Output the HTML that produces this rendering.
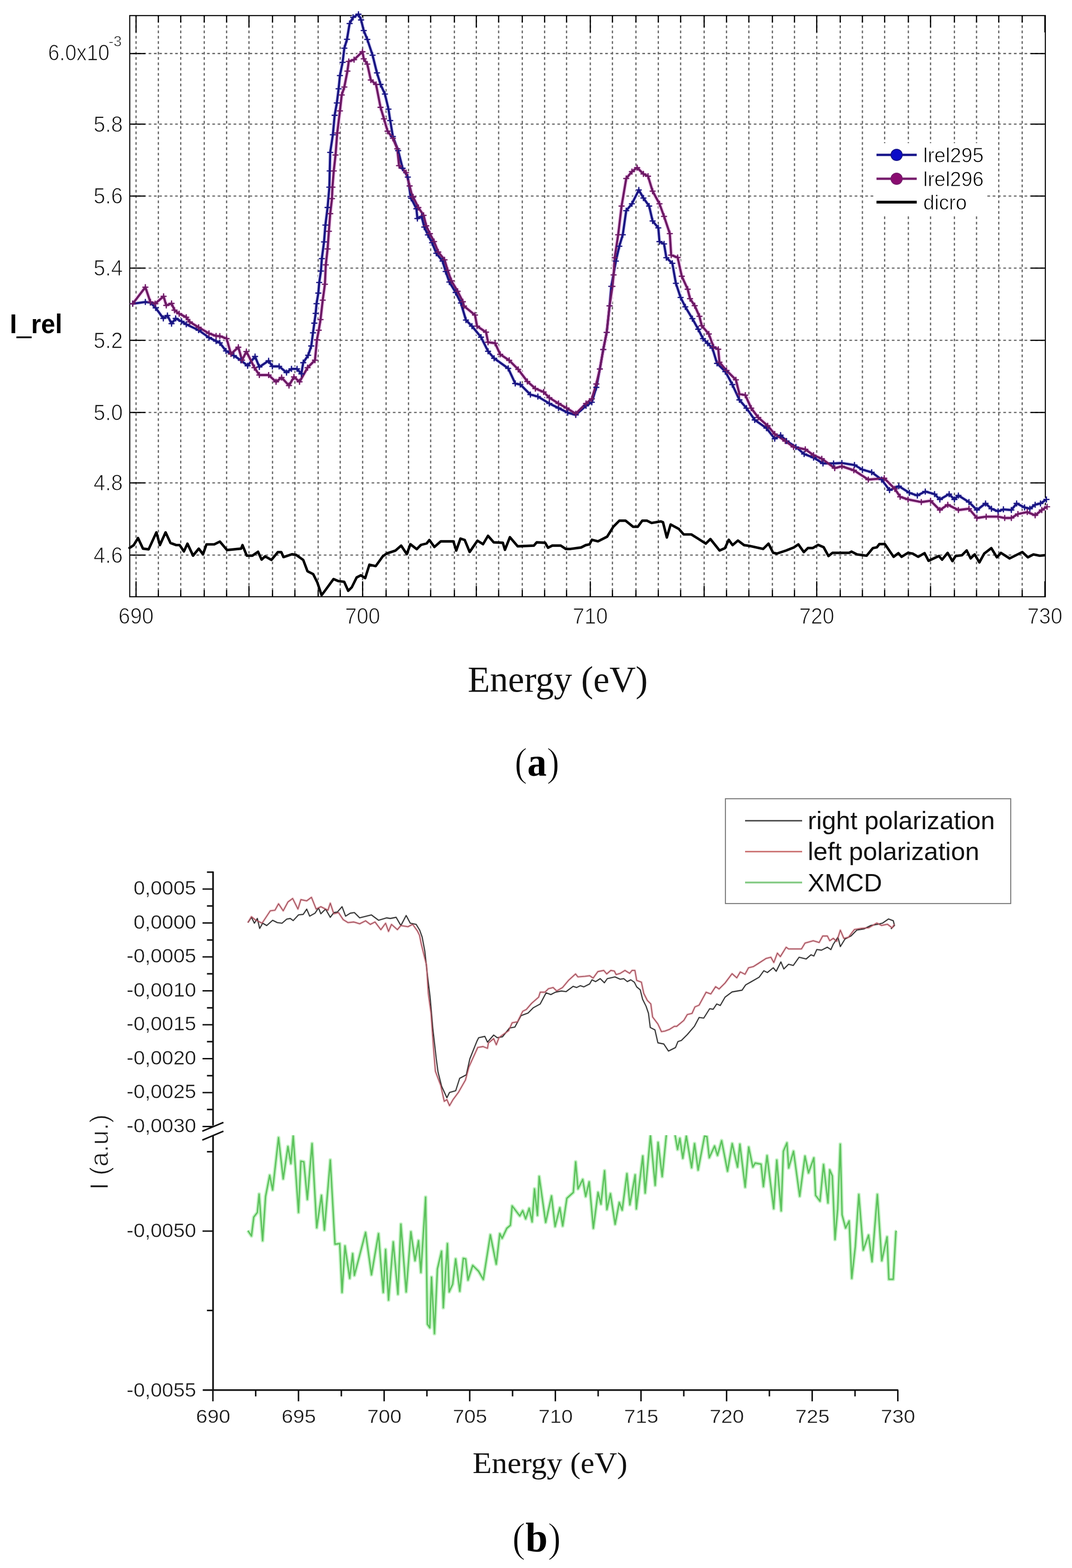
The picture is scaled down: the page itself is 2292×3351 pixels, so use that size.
<!DOCTYPE html>
<html><head><meta charset="utf-8"><title>Figure</title>
<style>html,body{margin:0;padding:0;background:#fff;}body{width:2292px;height:3351px;overflow:hidden;}svg{display:block;}</style>
</head><body>
<svg width="2292" height="3351" viewBox="0 0 2292 3351">
<rect x="0" y="0" width="2292" height="3351" fill="#ffffff"/>
<path d="M290.9 33.3V1275.3M338.6 33.3V1275.3M386.4 33.3V1275.3M436.7 33.3V1275.3M484.5 33.3V1275.3M532.3 33.3V1275.3M582.7 33.3V1275.3M630.5 33.3V1275.3M680.2 33.3V1275.3M727.4 33.3V1275.3M775.3 33.3V1275.3M825.5 33.3V1275.3M873.4 33.3V1275.3M920.8 33.3V1275.3M971.5 33.3V1275.3M1018.4 33.3V1275.3M1066.1 33.3V1275.3M1116.7 33.3V1275.3M1164.4 33.3V1275.3M1211.3 33.3V1275.3M1262.1 33.3V1275.3M1309.4 33.3V1275.3M1359.7 33.3V1275.3M1407.5 33.3V1275.3M1455.2 33.3V1275.3M1505.5 33.3V1275.3M1553.3 33.3V1275.3M1601.1 33.3V1275.3M1651.4 33.3V1275.3M1698.7 33.3V1275.3M1746.2 33.3V1275.3M1796.5 33.3V1275.3M1843.9 33.3V1275.3M1891.4 33.3V1275.3M1942.1 33.3V1275.3M1989.6 33.3V1275.3M2040.6 33.3V1275.3M2087.9 33.3V1275.3M2135.4 33.3V1275.3M2185.5 33.3V1275.3" stroke="#686868" stroke-width="2.7" stroke-dasharray="5.7 5.65" stroke-dashoffset="2.0" fill="none"/>
<path d="M277.4 114.4H2235.0M277.4 265.3H2235.0M277.4 419.0H2235.0M277.4 573.0H2235.0M277.4 727.2H2235.0M277.4 881.5H2235.0M277.4 1032.0H2235.0M277.4 1186.3H2235.0" stroke="#686868" stroke-width="2.6" stroke-dasharray="5.7 5.65" stroke-dashoffset="5.0" fill="none"/>
<path d="M290.9 1275.3v-33M290.9 33.3v36M338.6 1275.3v-14M338.6 33.3v15M386.4 1275.3v-14M386.4 33.3v15M436.7 1275.3v-14M436.7 33.3v15M484.5 1275.3v-14M484.5 33.3v15M532.3 1275.3v-23M532.3 33.3v25M582.7 1275.3v-14M582.7 33.3v15M630.5 1275.3v-14M630.5 33.3v15M680.2 1275.3v-14M680.2 33.3v15M727.4 1275.3v-14M727.4 33.3v15M775.3 1275.3v-33M775.3 33.3v36M825.5 1275.3v-14M825.5 33.3v15M873.4 1275.3v-14M873.4 33.3v15M920.8 1275.3v-14M920.8 33.3v15M971.5 1275.3v-14M971.5 33.3v15M1018.4 1275.3v-23M1018.4 33.3v25M1066.1 1275.3v-14M1066.1 33.3v15M1116.7 1275.3v-14M1116.7 33.3v15M1164.4 1275.3v-14M1164.4 33.3v15M1211.3 1275.3v-14M1211.3 33.3v15M1262.1 1275.3v-33M1262.1 33.3v36M1309.4 1275.3v-14M1309.4 33.3v15M1359.7 1275.3v-14M1359.7 33.3v15M1407.5 1275.3v-14M1407.5 33.3v15M1455.2 1275.3v-14M1455.2 33.3v15M1505.5 1275.3v-23M1505.5 33.3v25M1553.3 1275.3v-14M1553.3 33.3v15M1601.1 1275.3v-14M1601.1 33.3v15M1651.4 1275.3v-14M1651.4 33.3v15M1698.7 1275.3v-14M1698.7 33.3v15M1746.2 1275.3v-33M1746.2 33.3v36M1796.5 1275.3v-14M1796.5 33.3v15M1843.9 1275.3v-14M1843.9 33.3v15M1891.4 1275.3v-14M1891.4 33.3v15M1942.1 1275.3v-14M1942.1 33.3v15M1989.6 1275.3v-23M1989.6 33.3v25M2040.6 1275.3v-14M2040.6 33.3v15M2087.9 1275.3v-14M2087.9 33.3v15M2135.4 1275.3v-14M2135.4 33.3v15M2185.5 1275.3v-14M2185.5 33.3v15M2234.0 1275.3v-33M2234.0 33.3v36M277.4 114.4h33M2235.0 114.4h-31M277.4 265.3h33M2235.0 265.3h-31M277.4 419.0h33M2235.0 419.0h-31M277.4 573.0h33M2235.0 573.0h-31M277.4 727.2h33M2235.0 727.2h-31M277.4 881.5h33M2235.0 881.5h-31M277.4 1032.0h33M2235.0 1032.0h-31M277.4 1186.3h33M2235.0 1186.3h-31" stroke="#000" stroke-width="2.5" fill="none"/>
<rect x="1871" y="306" width="237" height="151" fill="#ffffff"/>
<rect x="277.4" y="33.3" width="1957.6" height="1242.0" fill="none" stroke="#000" stroke-width="2.3"/>
<polyline points="283.8,649.1 310.8,645.3 321.5,646.5 332.8,657.9 349.2,680.5 358.0,674.2 366.8,691.8 375.6,680.5 388.2,686.8 398.2,693.1 424.7,705.6 446.8,721.4 462.0,729.0 470.0,732.8 483.2,750.0 500.0,760.0 515.0,770.0 529.4,781.7 545.3,761.9 554.5,784.3 574.3,771.1 582.3,783.0 596.8,783.0 612.6,796.2 623.2,788.3 635.1,788.3 644.3,798.9 648.3,775.1 658.9,759.2 665.5,739.4 669.2,711.3 672.0,690.6 674.9,669.8 676.8,649.0 680.6,626.4 682.5,603.8 686.2,579.2 688.1,552.8 692.8,517.0 695.7,481.0 700.4,443.4 704.2,400.0 705.0,365.3 706.0,325.7 711.7,288.0 715.5,246.4 720.2,220.0 724.0,189.8 726.8,161.5 732.5,133.2 736.2,103.0 741.9,84.0 747.5,50.2 755.0,37.0 766.4,30.4 772.0,42.6 777.7,65.3 785.3,84.2 796.6,118.0 806.0,155.8 813.6,180.4 823.0,201.0 830.6,233.2 834.3,257.7 840.0,291.7 851.3,321.9 860.8,359.6 872.0,378.5 877.7,420.0 879.1,423.7 890.3,446.1 892.4,467.0 901.5,462.8 907.1,485.2 914.9,502.0 923.8,518.8 932.8,541.2 946.2,557.9 952.9,580.3 960.8,602.7 974.2,625.1 985.4,647.5 996.2,684.0 1009.1,697.0 1028.5,720.6 1043.5,750.8 1056.5,765.8 1086.6,787.3 1101.6,819.6 1112.4,821.8 1134.0,843.3 1150.0,847.5 1174.5,862.3 1194.1,872.0 1213.8,881.9 1231.0,886.8 1253.0,867.2 1265.3,859.8 1275.0,827.9 1282.5,788.7 1289.8,747.0 1297.2,710.2 1303.3,653.8 1307.0,612.0 1316.8,558.0 1324.1,526.2 1331.5,501.7 1338.9,450.2 1351.1,435.5 1365.8,406.0 1375.7,423.2 1387.9,440.4 1395.3,472.3 1407.5,487.0 1410.0,516.4 1419.8,521.3 1424.7,550.7 1437.5,562.8 1445.1,605.5 1455.2,635.7 1465.2,655.8 1480.3,681.0 1492.9,703.6 1503.0,723.8 1513.0,733.8 1523.1,743.9 1533.1,776.6 1550.8,794.2 1565.8,821.9 1580.9,854.6 1596.0,872.2 1613.6,897.4 1638.8,915.0 1656.4,937.6 1669.0,930.0 1681.6,942.6 1701.7,955.2 1719.3,970.3 1739.4,977.9 1759.6,990.4 1782.2,990.4 1800.0,989.5 1826.9,993.8 1843.9,1003.7 1863.7,1009.3 1884.9,1024.9 1901.9,1047.6 1921.7,1039.0 1944.4,1053.2 1961.3,1058.9 1978.3,1050.4 1998.1,1056.0 2009.5,1067.4 2029.3,1056.0 2040.6,1067.4 2049.1,1058.9 2071.7,1073.0 2088.7,1090.0 2107.1,1075.9 2119.8,1087.2 2134.0,1092.8 2145.3,1088.6 2162.3,1090.0 2173.6,1075.9 2190.6,1084.4 2201.9,1087.2 2213.2,1078.7 2224.6,1075.9 2237.3,1067.4" fill="none" stroke="#e8e8fb" stroke-width="9.5" stroke-linejoin="round"/>
<polyline points="283.8,649.1 310.8,613.8 321.5,645.3 331.6,649.1 349.8,633.3 355.5,652.8 366.8,648.4 373.1,662.9 383.1,670.4 398.2,678.0 405.8,688.0 424.7,699.6 446.8,712.5 462.0,718.0 470.0,718.3 484.5,723.6 493.8,756.6 509.6,742.1 517.5,769.8 526.8,751.3 544.0,785.7 554.5,801.5 574.3,801.5 590.2,816.0 602.1,806.8 617.9,824.0 628.5,805.5 640.4,816.0 657.6,785.7 673.4,769.8 677.7,726.4 681.5,705.7 685.3,683.0 690.0,641.5 694.7,607.5 696.6,566.0 700.4,532.0 703.2,494.3 706.0,456.6 709.8,424.5 710.8,400.0 713.6,365.3 717.4,331.3 721.0,284.2 726.8,237.0 730.6,203.0 736.2,186.0 742.8,152.0 745.7,131.3 757.0,127.5 775.0,110.6 777.7,125.7 785.3,137.0 792.8,171.0 804.0,180.4 813.6,229.4 821.0,254.0 828.7,280.4 840.0,295.5 849.4,318.0 853.2,354.0 868.3,369.0 875.8,397.4 881.5,420.0 883.3,421.1 894.5,443.5 905.7,460.2 911.3,482.6 919.1,499.4 928.0,516.2 937.0,538.6 950.4,555.3 957.1,577.7 965.0,600.1 978.4,622.5 989.6,644.9 991.9,654.0 1015.6,673.3 1019.9,697.0 1039.2,709.9 1043.5,731.4 1058.6,733.5 1069.4,757.2 1088.7,770.1 1108.0,789.5 1127.5,815.3 1144.7,830.4 1162.3,837.7 1174.5,850.0 1194.1,862.3 1211.3,872.0 1231.0,884.3 1253.0,862.3 1265.3,852.4 1275.0,820.6 1282.5,788.7 1289.8,747.0 1297.2,710.2 1303.3,653.8 1309.4,612.0 1311.9,587.5 1314.3,550.7 1321.7,501.7 1329.0,440.4 1338.9,381.5 1351.1,366.8 1362.2,358.2 1375.7,371.7 1385.5,376.6 1395.3,408.5 1410.0,435.5 1419.8,462.5 1432.1,499.2 1435.0,545.2 1448.9,550.2 1457.7,590.4 1470.3,618.1 1475.3,638.2 1485.3,653.3 1495.4,676.0 1500.4,696.1 1515.5,713.7 1525.6,741.4 1535.7,746.4 1538.2,774.1 1553.3,791.7 1573.4,811.8 1580.9,842.0 1593.5,844.5 1606.1,872.2 1621.2,892.3 1641.3,909.9 1656.4,927.5 1679.0,942.6 1696.7,955.2 1721.8,960.3 1739.4,972.8 1757.0,980.4 1784.7,1000.5 1800.0,996.6 1825.5,1005.1 1856.6,1024.9 1890.6,1022.1 1913.2,1044.7 1924.5,1061.7 1941.5,1067.4 1969.8,1073.0 1989.6,1070.2 2009.5,1090.0 2026.4,1078.7 2049.1,1090.0 2071.7,1087.2 2088.7,1107.0 2108.5,1104.2 2134.0,1104.2 2148.1,1107.0 2162.3,1107.0 2176.4,1098.5 2196.3,1094.3 2213.2,1101.3 2227.4,1090.0 2238.7,1083.0" fill="none" stroke="#f8dcf6" stroke-width="9.5" stroke-linejoin="round"/>
<polyline points="277.0,1171.0 286.0,1164.9 295.1,1149.8 305.7,1172.5 317.8,1174.0 334.4,1137.7 341.9,1164.9 354.0,1137.7 364.5,1160.4 376.6,1164.9 384.2,1164.9 393.2,1178.5 400.8,1161.9 412.8,1187.5 424.9,1172.5 434.0,1184.5 441.5,1163.4 458.1,1163.4 470.2,1157.4 485.3,1175.5 515.5,1172.5 518.5,1164.9 527.6,1187.5 539.6,1187.5 551.7,1179.1 559.3,1196.0 566.8,1189.0 580.4,1196.6 594.0,1180.0 601.5,1180.0 606.1,1190.6 624.2,1184.5 633.2,1186.0 648.3,1196.6 657.4,1220.8 669.5,1226.8 678.5,1244.9 687.6,1272.0 696.6,1260.0 713.2,1237.4 723.8,1241.9 735.9,1243.4 744.5,1262.6 752.1,1255.1 762.6,1234.0 771.7,1229.4 780.8,1235.5 789.8,1206.8 803.4,1209.8 818.5,1188.7 827.5,1182.6 845.7,1176.6 857.7,1166.0 869.8,1184.2 877.4,1163.0 891.0,1173.6 900.0,1164.5 912.1,1161.5 918.1,1154.0 928.7,1169.0 942.3,1157.0 969.4,1157.0 975.5,1176.6 984.5,1151.0 993.6,1154.0 1004.2,1179.6 1020.8,1155.5 1032.8,1163.0 1043.4,1145.0 1055.5,1159.0 1075.1,1160.0 1079.6,1175.0 1090.2,1148.0 1106.8,1167.5 1141.5,1166.0 1147.5,1159.0 1165.7,1160.0 1171.7,1170.6 1180.8,1166.0 1198.9,1166.0 1209.8,1173.2 1219.6,1173.2 1242.5,1170.0 1252.3,1165.0 1260.5,1163.4 1265.4,1153.6 1278.5,1156.9 1298.1,1147.0 1311.2,1125.8 1324.3,1112.7 1337.4,1112.7 1353.7,1125.8 1363.5,1125.8 1373.3,1112.7 1383.1,1112.7 1393.0,1117.6 1412.6,1114.3 1417.5,1116.0 1425.7,1148.7 1433.8,1120.9 1451.8,1130.7 1461.6,1142.1 1478.0,1142.1 1491.1,1150.3 1509.0,1161.8 1518.9,1152.0 1538.5,1176.5 1549.9,1171.6 1558.1,1153.6 1566.3,1165.0 1577.7,1155.2 1590.8,1165.0 1602.3,1166.7 1631.7,1173.2 1643.1,1161.8 1653.0,1181.4 1661.1,1183.0 1680.8,1176.5 1697.1,1170.0 1706.9,1163.4 1718.7,1179.8 1727.2,1171.3 1737.4,1171.3 1749.3,1164.5 1761.1,1169.6 1771.3,1188.3 1779.8,1181.5 1815.5,1181.5 1820.6,1178.8 1832.5,1184.9 1852.9,1187.6 1866.4,1171.3 1874.9,1169.6 1880.0,1162.8 1891.9,1162.8 1910.6,1190.0 1920.8,1182.2 1927.6,1190.0 1941.2,1181.5 1951.4,1183.2 1963.2,1190.0 1976.8,1182.2 1985.3,1198.5 2007.4,1188.3 2014.2,1196.1 2026.1,1181.5 2036.3,1199.2 2043.1,1188.3 2056.7,1186.6 2066.8,1176.4 2075.3,1193.4 2083.8,1184.9 2094.0,1201.9 2104.2,1183.2 2119.5,1171.3 2131.4,1191.0 2139.9,1181.5 2158.6,1193.4 2185.7,1179.8 2197.6,1191.0 2209.5,1184.9 2223.1,1187.6 2233.3,1186.6" fill="none" stroke="#000" stroke-width="5.4" stroke-linejoin="round" stroke-linecap="round"/>
<polyline points="283.8,649.1 310.8,645.3 321.5,646.5 332.8,657.9 349.2,680.5 358.0,674.2 366.8,691.8 375.6,680.5 388.2,686.8 398.2,693.1 424.7,705.6 446.8,721.4 462.0,729.0 470.0,732.8 483.2,750.0 500.0,760.0 515.0,770.0 529.4,781.7 545.3,761.9 554.5,784.3 574.3,771.1 582.3,783.0 596.8,783.0 612.6,796.2 623.2,788.3 635.1,788.3 644.3,798.9 648.3,775.1 658.9,759.2 665.5,739.4 669.2,711.3 672.0,690.6 674.9,669.8 676.8,649.0 680.6,626.4 682.5,603.8 686.2,579.2 688.1,552.8 692.8,517.0 695.7,481.0 700.4,443.4 704.2,400.0 705.0,365.3 706.0,325.7 711.7,288.0 715.5,246.4 720.2,220.0 724.0,189.8 726.8,161.5 732.5,133.2 736.2,103.0 741.9,84.0 747.5,50.2 755.0,37.0 766.4,30.4 772.0,42.6 777.7,65.3 785.3,84.2 796.6,118.0 806.0,155.8 813.6,180.4 823.0,201.0 830.6,233.2 834.3,257.7 840.0,291.7 851.3,321.9 860.8,359.6 872.0,378.5 877.7,420.0 879.1,423.7 890.3,446.1 892.4,467.0 901.5,462.8 907.1,485.2 914.9,502.0 923.8,518.8 932.8,541.2 946.2,557.9 952.9,580.3 960.8,602.7 974.2,625.1 985.4,647.5 996.2,684.0 1009.1,697.0 1028.5,720.6 1043.5,750.8 1056.5,765.8 1086.6,787.3 1101.6,819.6 1112.4,821.8 1134.0,843.3 1150.0,847.5 1174.5,862.3 1194.1,872.0 1213.8,881.9 1231.0,886.8 1253.0,867.2 1265.3,859.8 1275.0,827.9 1282.5,788.7 1289.8,747.0 1297.2,710.2 1303.3,653.8 1307.0,612.0 1316.8,558.0 1324.1,526.2 1331.5,501.7 1338.9,450.2 1351.1,435.5 1365.8,406.0 1375.7,423.2 1387.9,440.4 1395.3,472.3 1407.5,487.0 1410.0,516.4 1419.8,521.3 1424.7,550.7 1437.5,562.8 1445.1,605.5 1455.2,635.7 1465.2,655.8 1480.3,681.0 1492.9,703.6 1503.0,723.8 1513.0,733.8 1523.1,743.9 1533.1,776.6 1550.8,794.2 1565.8,821.9 1580.9,854.6 1596.0,872.2 1613.6,897.4 1638.8,915.0 1656.4,937.6 1669.0,930.0 1681.6,942.6 1701.7,955.2 1719.3,970.3 1739.4,977.9 1759.6,990.4 1782.2,990.4 1800.0,989.5 1826.9,993.8 1843.9,1003.7 1863.7,1009.3 1884.9,1024.9 1901.9,1047.6 1921.7,1039.0 1944.4,1053.2 1961.3,1058.9 1978.3,1050.4 1998.1,1056.0 2009.5,1067.4 2029.3,1056.0 2040.6,1067.4 2049.1,1058.9 2071.7,1073.0 2088.7,1090.0 2107.1,1075.9 2119.8,1087.2 2134.0,1092.8 2145.3,1088.6 2162.3,1090.0 2173.6,1075.9 2190.6,1084.4 2201.9,1087.2 2213.2,1078.7 2224.6,1075.9 2237.3,1067.4" fill="none" stroke="#1a1684" stroke-width="4.8" stroke-linejoin="round"/>
<polyline points="283.8,649.1 310.8,613.8 321.5,645.3 331.6,649.1 349.8,633.3 355.5,652.8 366.8,648.4 373.1,662.9 383.1,670.4 398.2,678.0 405.8,688.0 424.7,699.6 446.8,712.5 462.0,718.0 470.0,718.3 484.5,723.6 493.8,756.6 509.6,742.1 517.5,769.8 526.8,751.3 544.0,785.7 554.5,801.5 574.3,801.5 590.2,816.0 602.1,806.8 617.9,824.0 628.5,805.5 640.4,816.0 657.6,785.7 673.4,769.8 677.7,726.4 681.5,705.7 685.3,683.0 690.0,641.5 694.7,607.5 696.6,566.0 700.4,532.0 703.2,494.3 706.0,456.6 709.8,424.5 710.8,400.0 713.6,365.3 717.4,331.3 721.0,284.2 726.8,237.0 730.6,203.0 736.2,186.0 742.8,152.0 745.7,131.3 757.0,127.5 775.0,110.6 777.7,125.7 785.3,137.0 792.8,171.0 804.0,180.4 813.6,229.4 821.0,254.0 828.7,280.4 840.0,295.5 849.4,318.0 853.2,354.0 868.3,369.0 875.8,397.4 881.5,420.0 883.3,421.1 894.5,443.5 905.7,460.2 911.3,482.6 919.1,499.4 928.0,516.2 937.0,538.6 950.4,555.3 957.1,577.7 965.0,600.1 978.4,622.5 989.6,644.9 991.9,654.0 1015.6,673.3 1019.9,697.0 1039.2,709.9 1043.5,731.4 1058.6,733.5 1069.4,757.2 1088.7,770.1 1108.0,789.5 1127.5,815.3 1144.7,830.4 1162.3,837.7 1174.5,850.0 1194.1,862.3 1211.3,872.0 1231.0,884.3 1253.0,862.3 1265.3,852.4 1275.0,820.6 1282.5,788.7 1289.8,747.0 1297.2,710.2 1303.3,653.8 1309.4,612.0 1311.9,587.5 1314.3,550.7 1321.7,501.7 1329.0,440.4 1338.9,381.5 1351.1,366.8 1362.2,358.2 1375.7,371.7 1385.5,376.6 1395.3,408.5 1410.0,435.5 1419.8,462.5 1432.1,499.2 1435.0,545.2 1448.9,550.2 1457.7,590.4 1470.3,618.1 1475.3,638.2 1485.3,653.3 1495.4,676.0 1500.4,696.1 1515.5,713.7 1525.6,741.4 1535.7,746.4 1538.2,774.1 1553.3,791.7 1573.4,811.8 1580.9,842.0 1593.5,844.5 1606.1,872.2 1621.2,892.3 1641.3,909.9 1656.4,927.5 1679.0,942.6 1696.7,955.2 1721.8,960.3 1739.4,972.8 1757.0,980.4 1784.7,1000.5 1800.0,996.6 1825.5,1005.1 1856.6,1024.9 1890.6,1022.1 1913.2,1044.7 1924.5,1061.7 1941.5,1067.4 1969.8,1073.0 1989.6,1070.2 2009.5,1090.0 2026.4,1078.7 2049.1,1090.0 2071.7,1087.2 2088.7,1107.0 2108.5,1104.2 2134.0,1104.2 2148.1,1107.0 2162.3,1107.0 2176.4,1098.5 2196.3,1094.3 2213.2,1101.3 2227.4,1090.0 2238.7,1083.0" fill="none" stroke="#6e1a66" stroke-width="4.8" stroke-linejoin="round"/>
<path d="M277.3 649.1h13M283.8 642.6v13M304.3 645.3h13M310.8 638.8v13M315.0 646.5h13M321.5 640.0v13M326.3 657.9h13M332.8 651.4v13M342.7 680.5h13M349.2 674.0v13M351.5 674.2h13M358.0 667.7v13M360.3 691.8h13M366.8 685.3v13M369.1 680.5h13M375.6 674.0v13M381.7 686.8h13M388.2 680.3v13M391.7 693.1h13M398.2 686.6v13M418.2 705.6h13M424.7 699.1v13M440.3 721.4h13M446.8 714.9v13M455.5 729.0h13M462.0 722.5v13M463.5 732.8h13M470.0 726.3v13M476.7 750.0h13M483.2 743.5v13M493.5 760.0h13M500.0 753.5v13M508.5 770.0h13M515.0 763.5v13M522.9 781.7h13M529.4 775.2v13M538.8 761.9h13M545.3 755.4v13M548.0 784.3h13M554.5 777.8v13M567.8 771.1h13M574.3 764.6v13M575.8 783.0h13M582.3 776.5v13M590.3 783.0h13M596.8 776.5v13M606.1 796.2h13M612.6 789.7v13M616.7 788.3h13M623.2 781.8v13M628.6 788.3h13M635.1 781.8v13M637.8 798.9h13M644.3 792.4v13M641.8 775.1h13M648.3 768.6v13M652.4 759.2h13M658.9 752.7v13M659.0 739.4h13M665.5 732.9v13M662.7 711.3h13M669.2 704.8v13M665.5 690.6h13M672.0 684.1v13M668.4 669.8h13M674.9 663.3v13M670.3 649.0h13M676.8 642.5v13M674.1 626.4h13M680.6 619.9v13M676.0 603.8h13M682.5 597.3v13M679.7 579.2h13M686.2 572.7v13M681.6 552.8h13M688.1 546.3v13M686.3 517.0h13M692.8 510.5v13M689.2 481.0h13M695.7 474.5v13M693.9 443.4h13M700.4 436.9v13M697.7 400.0h13M704.2 393.5v13M698.5 365.3h13M705.0 358.8v13M699.5 325.7h13M706.0 319.2v13M705.2 288.0h13M711.7 281.5v13M709.0 246.4h13M715.5 239.9v13M713.7 220.0h13M720.2 213.5v13M717.5 189.8h13M724.0 183.3v13M720.3 161.5h13M726.8 155.0v13M726.0 133.2h13M732.5 126.7v13M729.7 103.0h13M736.2 96.5v13M735.4 84.0h13M741.9 77.5v13M741.0 50.2h13M747.5 43.7v13M748.5 37.0h13M755.0 30.5v13M759.9 30.4h13M766.4 23.9v13M765.5 42.6h13M772.0 36.1v13M771.2 65.3h13M777.7 58.8v13M778.8 84.2h13M785.3 77.7v13M790.1 118.0h13M796.6 111.5v13M799.5 155.8h13M806.0 149.3v13M807.1 180.4h13M813.6 173.9v13M816.5 201.0h13M823.0 194.5v13M824.1 233.2h13M830.6 226.7v13M827.8 257.7h13M834.3 251.2v13M833.5 291.7h13M840.0 285.2v13M844.8 321.9h13M851.3 315.4v13M854.3 359.6h13M860.8 353.1v13M865.5 378.5h13M872.0 372.0v13M871.2 420.0h13M877.7 413.5v13M872.6 423.7h13M879.1 417.2v13M883.8 446.1h13M890.3 439.6v13M885.9 467.0h13M892.4 460.5v13M895.0 462.8h13M901.5 456.3v13M900.6 485.2h13M907.1 478.7v13M908.4 502.0h13M914.9 495.5v13M917.3 518.8h13M923.8 512.3v13M926.3 541.2h13M932.8 534.7v13M939.7 557.9h13M946.2 551.4v13M946.4 580.3h13M952.9 573.8v13M954.3 602.7h13M960.8 596.2v13M967.7 625.1h13M974.2 618.6v13M978.9 647.5h13M985.4 641.0v13M989.7 684.0h13M996.2 677.5v13M1002.6 697.0h13M1009.1 690.5v13M1022.0 720.6h13M1028.5 714.1v13M1037.0 750.8h13M1043.5 744.3v13M1050.0 765.8h13M1056.5 759.3v13M1080.1 787.3h13M1086.6 780.8v13M1095.1 819.6h13M1101.6 813.1v13M1105.9 821.8h13M1112.4 815.3v13M1127.5 843.3h13M1134.0 836.8v13M1143.5 847.5h13M1150.0 841.0v13M1168.0 862.3h13M1174.5 855.8v13M1187.6 872.0h13M1194.1 865.5v13M1207.3 881.9h13M1213.8 875.4v13M1224.5 886.8h13M1231.0 880.3v13M1246.5 867.2h13M1253.0 860.7v13M1258.8 859.8h13M1265.3 853.3v13M1268.5 827.9h13M1275.0 821.4v13M1276.0 788.7h13M1282.5 782.2v13M1283.3 747.0h13M1289.8 740.5v13M1290.7 710.2h13M1297.2 703.7v13M1296.8 653.8h13M1303.3 647.3v13M1300.5 612.0h13M1307.0 605.5v13M1310.3 558.0h13M1316.8 551.5v13M1317.6 526.2h13M1324.1 519.7v13M1325.0 501.7h13M1331.5 495.2v13M1332.4 450.2h13M1338.9 443.7v13M1344.6 435.5h13M1351.1 429.0v13M1359.3 406.0h13M1365.8 399.5v13M1369.2 423.2h13M1375.7 416.7v13M1381.4 440.4h13M1387.9 433.9v13M1388.8 472.3h13M1395.3 465.8v13M1401.0 487.0h13M1407.5 480.5v13M1403.5 516.4h13M1410.0 509.9v13M1413.3 521.3h13M1419.8 514.8v13M1418.2 550.7h13M1424.7 544.2v13M1431.0 562.8h13M1437.5 556.3v13M1438.6 605.5h13M1445.1 599.0v13M1448.7 635.7h13M1455.2 629.2v13M1458.7 655.8h13M1465.2 649.3v13M1473.8 681.0h13M1480.3 674.5v13M1486.4 703.6h13M1492.9 697.1v13M1496.5 723.8h13M1503.0 717.3v13M1506.5 733.8h13M1513.0 727.3v13M1516.6 743.9h13M1523.1 737.4v13M1526.6 776.6h13M1533.1 770.1v13M1544.3 794.2h13M1550.8 787.7v13M1559.3 821.9h13M1565.8 815.4v13M1574.4 854.6h13M1580.9 848.1v13M1589.5 872.2h13M1596.0 865.7v13M1607.1 897.4h13M1613.6 890.9v13M1632.3 915.0h13M1638.8 908.5v13M1649.9 937.6h13M1656.4 931.1v13M1662.5 930.0h13M1669.0 923.5v13M1675.1 942.6h13M1681.6 936.1v13M1695.2 955.2h13M1701.7 948.7v13M1712.8 970.3h13M1719.3 963.8v13M1732.9 977.9h13M1739.4 971.4v13M1753.1 990.4h13M1759.6 983.9v13M1775.7 990.4h13M1782.2 983.9v13M1793.5 989.5h13M1800.0 983.0v13M1820.4 993.8h13M1826.9 987.3v13M1837.4 1003.7h13M1843.9 997.2v13M1857.2 1009.3h13M1863.7 1002.8v13M1878.4 1024.9h13M1884.9 1018.4v13M1895.4 1047.6h13M1901.9 1041.1v13M1915.2 1039.0h13M1921.7 1032.5v13M1937.9 1053.2h13M1944.4 1046.7v13M1954.8 1058.9h13M1961.3 1052.4v13M1971.8 1050.4h13M1978.3 1043.9v13M1991.6 1056.0h13M1998.1 1049.5v13M2003.0 1067.4h13M2009.5 1060.9v13M2022.8 1056.0h13M2029.3 1049.5v13M2034.1 1067.4h13M2040.6 1060.9v13M2042.6 1058.9h13M2049.1 1052.4v13M2065.2 1073.0h13M2071.7 1066.5v13M2082.2 1090.0h13M2088.7 1083.5v13M2100.6 1075.9h13M2107.1 1069.4v13M2113.3 1087.2h13M2119.8 1080.7v13M2127.5 1092.8h13M2134.0 1086.3v13M2138.8 1088.6h13M2145.3 1082.1v13M2155.8 1090.0h13M2162.3 1083.5v13M2167.1 1075.9h13M2173.6 1069.4v13M2184.1 1084.4h13M2190.6 1077.9v13M2195.4 1087.2h13M2201.9 1080.7v13M2206.7 1078.7h13M2213.2 1072.2v13M2218.1 1075.9h13M2224.6 1069.4v13M2230.8 1067.4h13M2237.3 1060.9v13" stroke="#1a1684" stroke-width="2.6" fill="none"/>
<path d="M277.3 649.1h13M283.8 642.6v13M304.3 613.8h13M310.8 607.3v13M315.0 645.3h13M321.5 638.8v13M325.1 649.1h13M331.6 642.6v13M343.3 633.3h13M349.8 626.8v13M349.0 652.8h13M355.5 646.3v13M360.3 648.4h13M366.8 641.9v13M366.6 662.9h13M373.1 656.4v13M376.6 670.4h13M383.1 663.9v13M391.7 678.0h13M398.2 671.5v13M399.3 688.0h13M405.8 681.5v13M418.2 699.6h13M424.7 693.1v13M440.3 712.5h13M446.8 706.0v13M455.5 718.0h13M462.0 711.5v13M463.5 718.3h13M470.0 711.8v13M478.0 723.6h13M484.5 717.1v13M487.3 756.6h13M493.8 750.1v13M503.1 742.1h13M509.6 735.6v13M511.0 769.8h13M517.5 763.3v13M520.3 751.3h13M526.8 744.8v13M537.5 785.7h13M544.0 779.2v13M548.0 801.5h13M554.5 795.0v13M567.8 801.5h13M574.3 795.0v13M583.7 816.0h13M590.2 809.5v13M595.6 806.8h13M602.1 800.3v13M611.4 824.0h13M617.9 817.5v13M622.0 805.5h13M628.5 799.0v13M633.9 816.0h13M640.4 809.5v13M651.1 785.7h13M657.6 779.2v13M666.9 769.8h13M673.4 763.3v13M671.2 726.4h13M677.7 719.9v13M675.0 705.7h13M681.5 699.2v13M678.8 683.0h13M685.3 676.5v13M683.5 641.5h13M690.0 635.0v13M688.2 607.5h13M694.7 601.0v13M690.1 566.0h13M696.6 559.5v13M693.9 532.0h13M700.4 525.5v13M696.7 494.3h13M703.2 487.8v13M699.5 456.6h13M706.0 450.1v13M703.3 424.5h13M709.8 418.0v13M704.3 400.0h13M710.8 393.5v13M707.1 365.3h13M713.6 358.8v13M710.9 331.3h13M717.4 324.8v13M714.5 284.2h13M721.0 277.7v13M720.3 237.0h13M726.8 230.5v13M724.1 203.0h13M730.6 196.5v13M729.7 186.0h13M736.2 179.5v13M736.3 152.0h13M742.8 145.5v13M739.2 131.3h13M745.7 124.8v13M750.5 127.5h13M757.0 121.0v13M768.5 110.6h13M775.0 104.1v13M771.2 125.7h13M777.7 119.2v13M778.8 137.0h13M785.3 130.5v13M786.3 171.0h13M792.8 164.5v13M797.5 180.4h13M804.0 173.9v13M807.1 229.4h13M813.6 222.9v13M814.5 254.0h13M821.0 247.5v13M822.2 280.4h13M828.7 273.9v13M833.5 295.5h13M840.0 289.0v13M842.9 318.0h13M849.4 311.5v13M846.7 354.0h13M853.2 347.5v13M861.8 369.0h13M868.3 362.5v13M869.3 397.4h13M875.8 390.9v13M875.0 420.0h13M881.5 413.5v13M876.8 421.1h13M883.3 414.6v13M888.0 443.5h13M894.5 437.0v13M899.2 460.2h13M905.7 453.7v13M904.8 482.6h13M911.3 476.1v13M912.6 499.4h13M919.1 492.9v13M921.5 516.2h13M928.0 509.7v13M930.5 538.6h13M937.0 532.1v13M943.9 555.3h13M950.4 548.8v13M950.6 577.7h13M957.1 571.2v13M958.5 600.1h13M965.0 593.6v13M971.9 622.5h13M978.4 616.0v13M983.1 644.9h13M989.6 638.4v13M985.4 654.0h13M991.9 647.5v13M1009.1 673.3h13M1015.6 666.8v13M1013.4 697.0h13M1019.9 690.5v13M1032.7 709.9h13M1039.2 703.4v13M1037.0 731.4h13M1043.5 724.9v13M1052.1 733.5h13M1058.6 727.0v13M1062.9 757.2h13M1069.4 750.7v13M1082.2 770.1h13M1088.7 763.6v13M1101.5 789.5h13M1108.0 783.0v13M1121.0 815.3h13M1127.5 808.8v13M1138.2 830.4h13M1144.7 823.9v13M1155.8 837.7h13M1162.3 831.2v13M1168.0 850.0h13M1174.5 843.5v13M1187.6 862.3h13M1194.1 855.8v13M1204.8 872.0h13M1211.3 865.5v13M1224.5 884.3h13M1231.0 877.8v13M1246.5 862.3h13M1253.0 855.8v13M1258.8 852.4h13M1265.3 845.9v13M1268.5 820.6h13M1275.0 814.1v13M1276.0 788.7h13M1282.5 782.2v13M1283.3 747.0h13M1289.8 740.5v13M1290.7 710.2h13M1297.2 703.7v13M1296.8 653.8h13M1303.3 647.3v13M1302.9 612.0h13M1309.4 605.5v13M1305.4 587.5h13M1311.9 581.0v13M1307.8 550.7h13M1314.3 544.2v13M1315.2 501.7h13M1321.7 495.2v13M1322.5 440.4h13M1329.0 433.9v13M1332.4 381.5h13M1338.9 375.0v13M1344.6 366.8h13M1351.1 360.3v13M1355.7 358.2h13M1362.2 351.7v13M1369.2 371.7h13M1375.7 365.2v13M1379.0 376.6h13M1385.5 370.1v13M1388.8 408.5h13M1395.3 402.0v13M1403.5 435.5h13M1410.0 429.0v13M1413.3 462.5h13M1419.8 456.0v13M1425.6 499.2h13M1432.1 492.7v13M1428.5 545.2h13M1435.0 538.7v13M1442.4 550.2h13M1448.9 543.7v13M1451.2 590.4h13M1457.7 583.9v13M1463.8 618.1h13M1470.3 611.6v13M1468.8 638.2h13M1475.3 631.7v13M1478.8 653.3h13M1485.3 646.8v13M1488.9 676.0h13M1495.4 669.5v13M1493.9 696.1h13M1500.4 689.6v13M1509.0 713.7h13M1515.5 707.2v13M1519.1 741.4h13M1525.6 734.9v13M1529.2 746.4h13M1535.7 739.9v13M1531.7 774.1h13M1538.2 767.6v13M1546.8 791.7h13M1553.3 785.2v13M1566.9 811.8h13M1573.4 805.3v13M1574.4 842.0h13M1580.9 835.5v13M1587.0 844.5h13M1593.5 838.0v13M1599.6 872.2h13M1606.1 865.7v13M1614.7 892.3h13M1621.2 885.8v13M1634.8 909.9h13M1641.3 903.4v13M1649.9 927.5h13M1656.4 921.0v13M1672.5 942.6h13M1679.0 936.1v13M1690.2 955.2h13M1696.7 948.7v13M1715.3 960.3h13M1721.8 953.8v13M1732.9 972.8h13M1739.4 966.3v13M1750.5 980.4h13M1757.0 973.9v13M1778.2 1000.5h13M1784.7 994.0v13M1793.5 996.6h13M1800.0 990.1v13M1819.0 1005.1h13M1825.5 998.6v13M1850.1 1024.9h13M1856.6 1018.4v13M1884.1 1022.1h13M1890.6 1015.6v13M1906.7 1044.7h13M1913.2 1038.2v13M1918.0 1061.7h13M1924.5 1055.2v13M1935.0 1067.4h13M1941.5 1060.9v13M1963.3 1073.0h13M1969.8 1066.5v13M1983.1 1070.2h13M1989.6 1063.7v13M2003.0 1090.0h13M2009.5 1083.5v13M2019.9 1078.7h13M2026.4 1072.2v13M2042.6 1090.0h13M2049.1 1083.5v13M2065.2 1087.2h13M2071.7 1080.7v13M2082.2 1107.0h13M2088.7 1100.5v13M2102.0 1104.2h13M2108.5 1097.7v13M2127.5 1104.2h13M2134.0 1097.7v13M2141.6 1107.0h13M2148.1 1100.5v13M2155.8 1107.0h13M2162.3 1100.5v13M2169.9 1098.5h13M2176.4 1092.0v13M2189.8 1094.3h13M2196.3 1087.8v13M2206.7 1101.3h13M2213.2 1094.8v13M2220.9 1090.0h13M2227.4 1083.5v13M2232.2 1083.0h13M2238.7 1076.5v13" stroke="#6e1a66" stroke-width="2.6" fill="none"/>
<text transform="translate(290.90 1332.70) scale(1.0000 1.0800)" font-family="'Liberation Sans', Arial, sans-serif" font-size="45" fill="#111" text-anchor="middle" stroke="#fff" stroke-width="1.1">690</text>
<text transform="translate(775.30 1332.70) scale(1.0000 1.0800)" font-family="'Liberation Sans', Arial, sans-serif" font-size="45" fill="#111" text-anchor="middle" stroke="#fff" stroke-width="1.1">700</text>
<text transform="translate(1262.10 1332.70) scale(1.0000 1.0800)" font-family="'Liberation Sans', Arial, sans-serif" font-size="45" fill="#111" text-anchor="middle" stroke="#fff" stroke-width="1.1">710</text>
<text transform="translate(1746.20 1332.70) scale(1.0000 1.0800)" font-family="'Liberation Sans', Arial, sans-serif" font-size="45" fill="#111" text-anchor="middle" stroke="#fff" stroke-width="1.1">720</text>
<text transform="translate(2234.00 1332.70) scale(1.0000 1.0800)" font-family="'Liberation Sans', Arial, sans-serif" font-size="45" fill="#111" text-anchor="middle" stroke="#fff" stroke-width="1.1">730</text>
<text transform="translate(262.50 281.60) scale(1.0000 1.0800)" font-family="'Liberation Sans', Arial, sans-serif" font-size="45" fill="#111" text-anchor="end" stroke="#fff" stroke-width="1.1">5.8</text>
<text transform="translate(262.50 435.30) scale(1.0000 1.0800)" font-family="'Liberation Sans', Arial, sans-serif" font-size="45" fill="#111" text-anchor="end" stroke="#fff" stroke-width="1.1">5.6</text>
<text transform="translate(262.50 589.30) scale(1.0000 1.0800)" font-family="'Liberation Sans', Arial, sans-serif" font-size="45" fill="#111" text-anchor="end" stroke="#fff" stroke-width="1.1">5.4</text>
<text transform="translate(262.50 743.50) scale(1.0000 1.0800)" font-family="'Liberation Sans', Arial, sans-serif" font-size="45" fill="#111" text-anchor="end" stroke="#fff" stroke-width="1.1">5.2</text>
<text transform="translate(262.50 897.80) scale(1.0000 1.0800)" font-family="'Liberation Sans', Arial, sans-serif" font-size="45" fill="#111" text-anchor="end" stroke="#fff" stroke-width="1.1">5.0</text>
<text transform="translate(262.50 1048.30) scale(1.0000 1.0800)" font-family="'Liberation Sans', Arial, sans-serif" font-size="45" fill="#111" text-anchor="end" stroke="#fff" stroke-width="1.1">4.8</text>
<text transform="translate(262.50 1202.60) scale(1.0000 1.0800)" font-family="'Liberation Sans', Arial, sans-serif" font-size="45" fill="#111" text-anchor="end" stroke="#fff" stroke-width="1.1">4.6</text>
<text transform="translate(102.80 129.20) scale(0.9720 1.0800)" font-family="'Liberation Sans', Arial, sans-serif" font-size="45" fill="#111" stroke="#fff" stroke-width="1.1">6.0x10</text>
<text transform="translate(232.30 99.00)" font-family="'Liberation Sans', Arial, sans-serif" font-size="31.5" fill="#111" stroke="#fff" stroke-width="0.8">-3</text>
<text transform="translate(21.00 711.70) scale(0.9400 1.0000)" font-family="'Liberation Sans', Arial, sans-serif" font-size="58" fill="#000" font-weight="bold">I<tspan dy="3.6" stroke="#000" stroke-width="1.4">_</tspan><tspan dy="-3.6">rel</tspan></text>
<path d="M1874 331H1960" stroke="#16148a" stroke-width="5"/>
<circle cx="1917" cy="331" r="12" fill="#0c0cc8" stroke="#16148a" stroke-width="2"/>
<path d="M1874 382H1960" stroke="#761c6c" stroke-width="5"/>
<circle cx="1917" cy="382" r="12" fill="#8a0c70" stroke="#761c6c" stroke-width="2"/>
<path d="M1874 432H1960" stroke="#000" stroke-width="6"/>
<text transform="translate(1974.00 347.00) scale(1.0000 1.0200)" font-family="'Liberation Sans', Arial, sans-serif" font-size="43" fill="#000" stroke="#fff" stroke-width="1.0">lrel295</text>
<text transform="translate(1974.00 398.00) scale(1.0000 1.0200)" font-family="'Liberation Sans', Arial, sans-serif" font-size="43" fill="#000" stroke="#fff" stroke-width="1.0">lrel296</text>
<text transform="translate(1974.00 448.00) scale(1.0000 1.0200)" font-family="'Liberation Sans', Arial, sans-serif" font-size="43" fill="#000" stroke="#fff" stroke-width="1.0">dicro</text>
<text x="1000" y="1478.4" font-family="'Liberation Serif', 'Times New Roman', serif" font-size="79" fill="#111" textLength="385" lengthAdjust="spacingAndGlyphs">Energy (eV)</text>
<text transform="translate(1100.00 1657.50) scale(0.9500 1.0000)" font-family="'Liberation Serif', 'Times New Roman', serif" font-size="87" fill="#000"><tspan stroke="#fff" stroke-width="1.6">(</tspan><tspan font-weight="bold">a</tspan><tspan stroke="#fff" stroke-width="1.6">)</tspan></text>
<polyline points="530.0,1971.7 537.6,1960.4 543.9,1973.0 550.2,1962.9 555.2,1984.3 561.5,1973.0 570.3,1978.0 582.9,1966.7 593.0,1971.7 603.0,1973.0 613.1,1964.2 620.6,1962.9 626.9,1967.4 638.2,1955.3 648.3,1954.1 655.8,1942.8 662.1,1957.9 673.5,1951.6 681.0,1940.3 686.0,1952.8 696.1,1942.8 706.2,1960.4 713.7,1950.3 721.3,1949.1 731.3,1937.7 738.9,1957.9 748.9,1951.6 757.7,1950.3 769.0,1961.6 794.2,1955.3 809.3,1966.7 826.9,1961.6 834.5,1962.9 847.0,1960.4 857.1,1978.0 868.4,1956.6 877.2,1973.0 889.8,1975.5 897.4,1988.0 902.6,2002.6 908.3,2032.8 914.0,2085.7 919.6,2131.0 925.3,2197.0 932.8,2263.0 936.6,2291.3 944.2,2321.5 955.5,2346.0 961.1,2334.7 974.3,2331.0 982.8,2304.5 997.0,2297.0 1004.5,2263.0 1019.6,2225.3 1023.4,2217.7 1036.6,2214.9 1042.3,2227.2 1055.5,2212.0 1063.0,2217.7 1074.3,2215.8 1089.4,2197.0 1100.8,2195.0 1114.0,2170.6 1129.0,2165.0 1140.4,2153.6 1155.0,2145.6 1167.6,2121.7 1177.7,2125.5 1187.7,2120.4 1200.3,2117.9 1210.4,2119.2 1225.5,2107.9 1233.0,2110.4 1240.6,2106.6 1248.1,2109.1 1260.7,2102.8 1265.7,2094.0 1273.3,2097.8 1283.3,2091.5 1292.1,2100.3 1298.4,2091.5 1314.8,2087.7 1326.1,2092.8 1333.6,2091.5 1341.2,2097.8 1348.7,2094.0 1356.3,2099.1 1361.3,2109.1 1368.9,2115.4 1373.9,2135.5 1381.4,2150.6 1386.5,2165.7 1390.3,2195.9 1400.3,2201.0 1406.6,2228.6 1419.2,2231.1 1429.2,2246.2 1444.3,2238.7 1449.4,2226.1 1456.9,2223.6 1469.5,2211.0 1484.6,2193.4 1494.7,2174.5 1504.7,2175.8 1517.3,2155.7 1524.8,2156.9 1532.4,2145.6 1540.0,2148.8 1550.1,2131.2 1565.2,2119.9 1586.6,2116.1 1594.2,2104.8 1605.5,2098.5 1623.1,2088.4 1633.1,2074.6 1640.7,2078.4 1653.3,2068.3 1659.6,2075.8 1669.6,2055.7 1675.9,2070.8 1686.0,2060.8 1696.0,2063.3 1708.6,2045.7 1723.7,2049.4 1733.8,2040.6 1740.1,2043.1 1746.4,2029.3 1756.4,2030.6 1769.0,2024.3 1776.5,2029.3 1781.6,2018.0 1791.6,2002.9 1796.7,2023.0 1806.7,2006.7 1819.3,2000.4 1831.9,1987.8 1847.0,1985.3 1862.1,1977.7 1877.2,1975.2 1887.2,1972.7 1899.8,1963.9 1909.9,1967.7 1912.4,1977.7 1904.8,1985.3" fill="none" stroke="#ececec" stroke-width="5.5" stroke-linejoin="round"/>
<polyline points="530.0,1971.7 537.6,1959.1 545.2,1965.4 560.3,1973.0 577.9,1946.5 587.9,1945.3 595.5,1931.4 605.5,1946.5 615.6,1927.7 625.7,1920.1 637.0,1942.8 643.3,1922.6 655.8,1925.2 665.9,1917.6 676.0,1942.8 686.0,1937.7 701.1,1945.3 706.2,1930.2 713.7,1952.8 723.8,1950.3 733.8,1965.4 743.9,1971.7 756.5,1970.4 769.0,1974.2 781.6,1967.9 791.7,1975.5 801.8,1970.4 814.3,1986.8 824.4,1973.0 830.7,1990.6 837.0,1975.5 849.6,1986.8 857.1,1978.0 872.2,1980.5 882.3,1975.5 892.3,1989.3 897.0,1998.9 900.8,2017.7 912.0,2063.0 915.8,2123.4 921.5,2165.0 927.2,2244.0 930.9,2289.4 942.3,2319.6 949.8,2353.6 955.5,2349.8 961.1,2363.0 968.7,2349.8 980.0,2334.7 995.1,2308.3 1002.6,2280.0 1021.5,2238.5 1032.8,2236.6 1042.3,2240.4 1044.2,2229.0 1055.5,2219.6 1061.1,2232.8 1066.8,2217.7 1074.3,2212.0 1087.5,2202.6 1095.1,2185.7 1106.4,2183.8 1117.7,2161.1 1125.3,2157.4 1136.6,2144.2 1151.7,2131.0 1155.0,2120.4 1165.1,2120.4 1172.6,2112.9 1182.7,2110.4 1190.3,2117.9 1202.8,2110.4 1215.4,2095.3 1230.5,2081.4 1235.5,2087.7 1250.6,2086.5 1260.7,2085.2 1268.2,2090.3 1278.3,2076.4 1290.9,2073.9 1297.2,2081.4 1306.0,2073.9 1313.5,2075.2 1317.3,2082.7 1326.1,2080.2 1336.2,2073.9 1346.2,2080.2 1351.3,2073.9 1357.5,2073.9 1361.3,2095.3 1371.4,2099.1 1376.4,2123.0 1384.0,2138.0 1391.5,2145.6 1395.3,2173.3 1406.6,2188.4 1414.2,2204.7 1421.7,2203.5 1431.8,2199.7 1441.8,2193.4 1446.9,2193.4 1462.0,2180.8 1469.5,2168.2 1479.6,2165.7 1485.8,2151.9 1494.7,2148.1 1509.7,2120.4 1519.8,2124.2 1530.0,2108.6 1537.5,2113.6 1550.1,2101.0 1565.2,2080.9 1575.3,2089.7 1582.8,2077.1 1592.9,2082.1 1600.4,2068.3 1610.5,2065.8 1620.6,2059.5 1638.2,2048.2 1648.2,2045.7 1654.5,2057.0 1662.1,2036.9 1668.4,2044.4 1680.9,2024.3 1686.0,2028.0 1713.6,2028.0 1721.2,2015.5 1738.8,2010.4 1751.4,2014.2 1758.9,2000.4 1769.0,2000.4 1774.0,2010.4 1781.6,2005.4 1789.1,2011.7 1796.7,1987.8 1804.2,2005.4 1814.3,2002.9 1821.8,1992.8 1826.9,1986.5 1842.0,1984.0 1857.1,1982.8 1874.7,1972.7 1884.7,1977.7 1897.3,1975.2 1907.4,1982.8 1912.4,1975.2" fill="none" stroke="#f6d8dc" stroke-width="5.5" stroke-linejoin="round"/>
<polyline points="530.0,1971.7 537.6,1960.4 543.9,1973.0 550.2,1962.9 555.2,1984.3 561.5,1973.0 570.3,1978.0 582.9,1966.7 593.0,1971.7 603.0,1973.0 613.1,1964.2 620.6,1962.9 626.9,1967.4 638.2,1955.3 648.3,1954.1 655.8,1942.8 662.1,1957.9 673.5,1951.6 681.0,1940.3 686.0,1952.8 696.1,1942.8 706.2,1960.4 713.7,1950.3 721.3,1949.1 731.3,1937.7 738.9,1957.9 748.9,1951.6 757.7,1950.3 769.0,1961.6 794.2,1955.3 809.3,1966.7 826.9,1961.6 834.5,1962.9 847.0,1960.4 857.1,1978.0 868.4,1956.6 877.2,1973.0 889.8,1975.5 897.4,1988.0 902.6,2002.6 908.3,2032.8 914.0,2085.7 919.6,2131.0 925.3,2197.0 932.8,2263.0 936.6,2291.3 944.2,2321.5 955.5,2346.0 961.1,2334.7 974.3,2331.0 982.8,2304.5 997.0,2297.0 1004.5,2263.0 1019.6,2225.3 1023.4,2217.7 1036.6,2214.9 1042.3,2227.2 1055.5,2212.0 1063.0,2217.7 1074.3,2215.8 1089.4,2197.0 1100.8,2195.0 1114.0,2170.6 1129.0,2165.0 1140.4,2153.6 1155.0,2145.6 1167.6,2121.7 1177.7,2125.5 1187.7,2120.4 1200.3,2117.9 1210.4,2119.2 1225.5,2107.9 1233.0,2110.4 1240.6,2106.6 1248.1,2109.1 1260.7,2102.8 1265.7,2094.0 1273.3,2097.8 1283.3,2091.5 1292.1,2100.3 1298.4,2091.5 1314.8,2087.7 1326.1,2092.8 1333.6,2091.5 1341.2,2097.8 1348.7,2094.0 1356.3,2099.1 1361.3,2109.1 1368.9,2115.4 1373.9,2135.5 1381.4,2150.6 1386.5,2165.7 1390.3,2195.9 1400.3,2201.0 1406.6,2228.6 1419.2,2231.1 1429.2,2246.2 1444.3,2238.7 1449.4,2226.1 1456.9,2223.6 1469.5,2211.0 1484.6,2193.4 1494.7,2174.5 1504.7,2175.8 1517.3,2155.7 1524.8,2156.9 1532.4,2145.6 1540.0,2148.8 1550.1,2131.2 1565.2,2119.9 1586.6,2116.1 1594.2,2104.8 1605.5,2098.5 1623.1,2088.4 1633.1,2074.6 1640.7,2078.4 1653.3,2068.3 1659.6,2075.8 1669.6,2055.7 1675.9,2070.8 1686.0,2060.8 1696.0,2063.3 1708.6,2045.7 1723.7,2049.4 1733.8,2040.6 1740.1,2043.1 1746.4,2029.3 1756.4,2030.6 1769.0,2024.3 1776.5,2029.3 1781.6,2018.0 1791.6,2002.9 1796.7,2023.0 1806.7,2006.7 1819.3,2000.4 1831.9,1987.8 1847.0,1985.3 1862.1,1977.7 1877.2,1975.2 1887.2,1972.7 1899.8,1963.9 1909.9,1967.7 1912.4,1977.7 1904.8,1985.3" fill="none" stroke="#262626" stroke-width="2.1" stroke-linejoin="round"/>
<polyline points="530.0,1971.7 537.6,1959.1 545.2,1965.4 560.3,1973.0 577.9,1946.5 587.9,1945.3 595.5,1931.4 605.5,1946.5 615.6,1927.7 625.7,1920.1 637.0,1942.8 643.3,1922.6 655.8,1925.2 665.9,1917.6 676.0,1942.8 686.0,1937.7 701.1,1945.3 706.2,1930.2 713.7,1952.8 723.8,1950.3 733.8,1965.4 743.9,1971.7 756.5,1970.4 769.0,1974.2 781.6,1967.9 791.7,1975.5 801.8,1970.4 814.3,1986.8 824.4,1973.0 830.7,1990.6 837.0,1975.5 849.6,1986.8 857.1,1978.0 872.2,1980.5 882.3,1975.5 892.3,1989.3 897.0,1998.9 900.8,2017.7 912.0,2063.0 915.8,2123.4 921.5,2165.0 927.2,2244.0 930.9,2289.4 942.3,2319.6 949.8,2353.6 955.5,2349.8 961.1,2363.0 968.7,2349.8 980.0,2334.7 995.1,2308.3 1002.6,2280.0 1021.5,2238.5 1032.8,2236.6 1042.3,2240.4 1044.2,2229.0 1055.5,2219.6 1061.1,2232.8 1066.8,2217.7 1074.3,2212.0 1087.5,2202.6 1095.1,2185.7 1106.4,2183.8 1117.7,2161.1 1125.3,2157.4 1136.6,2144.2 1151.7,2131.0 1155.0,2120.4 1165.1,2120.4 1172.6,2112.9 1182.7,2110.4 1190.3,2117.9 1202.8,2110.4 1215.4,2095.3 1230.5,2081.4 1235.5,2087.7 1250.6,2086.5 1260.7,2085.2 1268.2,2090.3 1278.3,2076.4 1290.9,2073.9 1297.2,2081.4 1306.0,2073.9 1313.5,2075.2 1317.3,2082.7 1326.1,2080.2 1336.2,2073.9 1346.2,2080.2 1351.3,2073.9 1357.5,2073.9 1361.3,2095.3 1371.4,2099.1 1376.4,2123.0 1384.0,2138.0 1391.5,2145.6 1395.3,2173.3 1406.6,2188.4 1414.2,2204.7 1421.7,2203.5 1431.8,2199.7 1441.8,2193.4 1446.9,2193.4 1462.0,2180.8 1469.5,2168.2 1479.6,2165.7 1485.8,2151.9 1494.7,2148.1 1509.7,2120.4 1519.8,2124.2 1530.0,2108.6 1537.5,2113.6 1550.1,2101.0 1565.2,2080.9 1575.3,2089.7 1582.8,2077.1 1592.9,2082.1 1600.4,2068.3 1610.5,2065.8 1620.6,2059.5 1638.2,2048.2 1648.2,2045.7 1654.5,2057.0 1662.1,2036.9 1668.4,2044.4 1680.9,2024.3 1686.0,2028.0 1713.6,2028.0 1721.2,2015.5 1738.8,2010.4 1751.4,2014.2 1758.9,2000.4 1769.0,2000.4 1774.0,2010.4 1781.6,2005.4 1789.1,2011.7 1796.7,1987.8 1804.2,2005.4 1814.3,2002.9 1821.8,1992.8 1826.9,1986.5 1842.0,1984.0 1857.1,1982.8 1874.7,1972.7 1884.7,1977.7 1897.3,1975.2 1907.4,1982.8 1912.4,1975.2" fill="none" stroke="#a4505c" stroke-width="2.1" stroke-linejoin="round"/>
<clipPath id="lo"><rect x="456" y="2426" width="1500" height="540"/></clipPath>
<polyline clip-path="url(#lo)" points="530.0,2630.0 537.6,2641.4 542.6,2601.1 550.2,2591.1 554.0,2552.1 561.5,2651.4 567.8,2557.1 576.6,2511.8 582.9,2543.3 595.5,2431.3 605.5,2519.4 615.6,2450.2 621.9,2486.7 626.9,2427.5 638.2,2591.1 643.3,2481.6 649.6,2482.9 657.1,2563.4 667.2,2443.9 677.2,2623.8 687.3,2554.6 693.6,2628.8 706.2,2479.1 716.2,2659.0 726.3,2657.7 731.3,2762.1 737.6,2662.8 747.7,2732.0 754.0,2679.1 757.7,2725.7 781.6,2633.8 794.2,2724.4 809.3,2636.4 819.4,2762.1 824.4,2670.3 830.7,2778.5 840.8,2654.0 850.8,2765.9 857.1,2616.2 868.4,2760.9 878.5,2632.6 887.3,2694.2 894.8,2651.4 899.9,2719.4 910.0,2558.4 913.8,2830.0 918.9,2837.6 922.6,2729.4 928.9,2850.2 935.2,2711.8 944.0,2674.1 947.8,2794.8 956.6,2657.7 960.4,2760.9 967.9,2744.5 974.2,2690.4 983.0,2759.6 990.6,2689.2 995.6,2690.4 1000.6,2735.7 1010.7,2704.3 1023.3,2716.9 1033.3,2734.5 1048.4,2638.9 1061.0,2701.8 1068.6,2636.4 1073.6,2646.4 1083.6,2625.0 1091.2,2618.7 1095.0,2577.2 1111.3,2598.6 1117.6,2587.3 1123.9,2604.9 1131.4,2582.3 1137.7,2611.2 1142.8,2540.8 1149.1,2597.4 1152.8,2514.3 1166.7,2612.5 1179.2,2555.8 1186.8,2621.3 1196.9,2581.0 1203.1,2620.0 1212.0,2560.9 1225.8,2548.3 1230.8,2482.9 1235.8,2540.8 1245.9,2520.6 1252.2,2557.1 1259.7,2525.7 1268.6,2625.0 1278.6,2548.3 1284.9,2573.5 1292.6,2501.9 1297.6,2584.9 1305.2,2550.9 1315.2,2616.4 1324.0,2569.8 1330.3,2586.2 1340.4,2508.2 1346.7,2574.8 1358.0,2510.7 1360.5,2583.6 1374.3,2470.4 1379.4,2549.7 1390.7,2426.4 1400.8,2533.3 1407.0,2441.5 1415.8,2514.5 1424.7,2425.2 1430.0,2400.0 1438.0,2400.0 1443.5,2426.4 1448.6,2456.6 1453.6,2432.7 1459.9,2475.5 1467.4,2427.7 1478.7,2495.6 1485.0,2444.0 1492.6,2500.6 1506.4,2427.7 1511.4,2428.9 1516.5,2474.2 1527.8,2449.1 1534.1,2469.2 1542.9,2437.7 1555.5,2503.1 1565.5,2444.0 1576.9,2494.3 1581.9,2445.3 1593.2,2537.1 1600.8,2451.6 1609.6,2494.3 1614.6,2485.5 1627.2,2488.0 1632.2,2535.8 1640.0,2469.8 1654.2,2583.0 1660.8,2479.2 1670.2,2587.7 1674.9,2460.4 1682.5,2442.5 1686.2,2496.2 1696.6,2460.4 1709.8,2556.6 1721.1,2470.8 1728.7,2506.6 1740.0,2474.5 1743.8,2554.7 1753.2,2567.0 1760.8,2488.7 1770.2,2570.8 1774.0,2500.0 1779.6,2513.2 1785.3,2649.0 1791.0,2584.0 1796.6,2445.3 1800.4,2596.2 1807.9,2624.5 1815.5,2609.4 1821.1,2732.1 1828.7,2664.2 1836.2,2552.8 1845.7,2671.7 1857.0,2639.6 1864.5,2696.2 1875.8,2552.8 1885.3,2694.3 1896.6,2643.4 1900.4,2734.0 1909.8,2734.0 1915.5,2632.1 1917.4,2631.1" fill="none" stroke="#c4f2c4" stroke-width="8" stroke-linejoin="round"/>
<polyline clip-path="url(#lo)" points="530.0,2630.0 537.6,2641.4 542.6,2601.1 550.2,2591.1 554.0,2552.1 561.5,2651.4 567.8,2557.1 576.6,2511.8 582.9,2543.3 595.5,2431.3 605.5,2519.4 615.6,2450.2 621.9,2486.7 626.9,2427.5 638.2,2591.1 643.3,2481.6 649.6,2482.9 657.1,2563.4 667.2,2443.9 677.2,2623.8 687.3,2554.6 693.6,2628.8 706.2,2479.1 716.2,2659.0 726.3,2657.7 731.3,2762.1 737.6,2662.8 747.7,2732.0 754.0,2679.1 757.7,2725.7 781.6,2633.8 794.2,2724.4 809.3,2636.4 819.4,2762.1 824.4,2670.3 830.7,2778.5 840.8,2654.0 850.8,2765.9 857.1,2616.2 868.4,2760.9 878.5,2632.6 887.3,2694.2 894.8,2651.4 899.9,2719.4 910.0,2558.4 913.8,2830.0 918.9,2837.6 922.6,2729.4 928.9,2850.2 935.2,2711.8 944.0,2674.1 947.8,2794.8 956.6,2657.7 960.4,2760.9 967.9,2744.5 974.2,2690.4 983.0,2759.6 990.6,2689.2 995.6,2690.4 1000.6,2735.7 1010.7,2704.3 1023.3,2716.9 1033.3,2734.5 1048.4,2638.9 1061.0,2701.8 1068.6,2636.4 1073.6,2646.4 1083.6,2625.0 1091.2,2618.7 1095.0,2577.2 1111.3,2598.6 1117.6,2587.3 1123.9,2604.9 1131.4,2582.3 1137.7,2611.2 1142.8,2540.8 1149.1,2597.4 1152.8,2514.3 1166.7,2612.5 1179.2,2555.8 1186.8,2621.3 1196.9,2581.0 1203.1,2620.0 1212.0,2560.9 1225.8,2548.3 1230.8,2482.9 1235.8,2540.8 1245.9,2520.6 1252.2,2557.1 1259.7,2525.7 1268.6,2625.0 1278.6,2548.3 1284.9,2573.5 1292.6,2501.9 1297.6,2584.9 1305.2,2550.9 1315.2,2616.4 1324.0,2569.8 1330.3,2586.2 1340.4,2508.2 1346.7,2574.8 1358.0,2510.7 1360.5,2583.6 1374.3,2470.4 1379.4,2549.7 1390.7,2426.4 1400.8,2533.3 1407.0,2441.5 1415.8,2514.5 1424.7,2425.2 1430.0,2400.0 1438.0,2400.0 1443.5,2426.4 1448.6,2456.6 1453.6,2432.7 1459.9,2475.5 1467.4,2427.7 1478.7,2495.6 1485.0,2444.0 1492.6,2500.6 1506.4,2427.7 1511.4,2428.9 1516.5,2474.2 1527.8,2449.1 1534.1,2469.2 1542.9,2437.7 1555.5,2503.1 1565.5,2444.0 1576.9,2494.3 1581.9,2445.3 1593.2,2537.1 1600.8,2451.6 1609.6,2494.3 1614.6,2485.5 1627.2,2488.0 1632.2,2535.8 1640.0,2469.8 1654.2,2583.0 1660.8,2479.2 1670.2,2587.7 1674.9,2460.4 1682.5,2442.5 1686.2,2496.2 1696.6,2460.4 1709.8,2556.6 1721.1,2470.8 1728.7,2506.6 1740.0,2474.5 1743.8,2554.7 1753.2,2567.0 1760.8,2488.7 1770.2,2570.8 1774.0,2500.0 1779.6,2513.2 1785.3,2649.0 1791.0,2584.0 1796.6,2445.3 1800.4,2596.2 1807.9,2624.5 1815.5,2609.4 1821.1,2732.1 1828.7,2664.2 1836.2,2552.8 1845.7,2671.7 1857.0,2639.6 1864.5,2696.2 1875.8,2552.8 1885.3,2694.3 1896.6,2643.4 1900.4,2734.0 1909.8,2734.0 1915.5,2632.1 1917.4,2631.1" fill="none" stroke="#5cc25c" stroke-width="3" stroke-linejoin="round"/>
<path d="M455.5 1862.5V2405.5M455.5 2427.4V2972.3M433.5 2970.8H1920.5" stroke="#111" stroke-width="3.6" fill="none"/>
<path d="M455.5 1863.8h-13M455.5 1900.0h-22.5M455.5 1936.2h-13M455.5 1972.5h-22.5M455.5 2008.8h-13M455.5 2045.0h-22.5M455.5 2081.2h-13M455.5 2117.5h-22.5M455.5 2153.8h-13M455.5 2190.0h-22.5M455.5 2226.2h-13M455.5 2262.5h-22.5M455.5 2298.8h-13M455.5 2335.0h-22.5M455.5 2371.2h-13M455.5 2407.5h-22.5M455.5 2461.3h-13M455.5 2631.0h-22.5M455.5 2800.7h-13M455.2 2970.8v24M546.7 2970.8v13.5M638.2 2970.8v24M729.8 2970.8v13.5M821.3 2970.8v24M912.8 2970.8v13.5M1004.3 2970.8v24M1095.9 2970.8v13.5M1187.4 2970.8v24M1278.9 2970.8v13.5M1370.5 2970.8v24M1462.0 2970.8v13.5M1553.5 2970.8v24M1645.0 2970.8v13.5M1736.5 2970.8v24M1828.1 2970.8v13.5M1919.6 2970.8v24" stroke="#111" stroke-width="3.2" fill="none"/>
<path d="M432.5 2417.5L477.7 2398.7M432.5 2436.4L477.7 2417.5" stroke="#111" stroke-width="3.2" fill="none"/>
<text transform="translate(419.50 1912.00) scale(1.0200 1.0100)" font-family="'Liberation Sans', Arial, sans-serif" font-size="43" fill="#1a1a1a" text-anchor="end" stroke="#fff" stroke-width="0.5">0,0005</text>
<text transform="translate(419.50 1984.50) scale(1.0200 1.0100)" font-family="'Liberation Sans', Arial, sans-serif" font-size="43" fill="#1a1a1a" text-anchor="end" stroke="#fff" stroke-width="0.5">0,0000</text>
<text transform="translate(419.50 2057.00) scale(1.0200 1.0100)" font-family="'Liberation Sans', Arial, sans-serif" font-size="43" fill="#1a1a1a" text-anchor="end" stroke="#fff" stroke-width="0.5">-0,0005</text>
<text transform="translate(419.50 2129.50) scale(1.0200 1.0100)" font-family="'Liberation Sans', Arial, sans-serif" font-size="43" fill="#1a1a1a" text-anchor="end" stroke="#fff" stroke-width="0.5">-0,0010</text>
<text transform="translate(419.50 2202.00) scale(1.0200 1.0100)" font-family="'Liberation Sans', Arial, sans-serif" font-size="43" fill="#1a1a1a" text-anchor="end" stroke="#fff" stroke-width="0.5">-0,0015</text>
<text transform="translate(419.50 2274.50) scale(1.0200 1.0100)" font-family="'Liberation Sans', Arial, sans-serif" font-size="43" fill="#1a1a1a" text-anchor="end" stroke="#fff" stroke-width="0.5">-0,0020</text>
<text transform="translate(419.50 2347.00) scale(1.0200 1.0100)" font-family="'Liberation Sans', Arial, sans-serif" font-size="43" fill="#1a1a1a" text-anchor="end" stroke="#fff" stroke-width="0.5">-0,0025</text>
<text transform="translate(419.50 2419.50) scale(1.0200 1.0100)" font-family="'Liberation Sans', Arial, sans-serif" font-size="43" fill="#1a1a1a" text-anchor="end" stroke="#fff" stroke-width="0.5">-0,0030</text>
<text transform="translate(419.50 2643.50) scale(1.0200 1.0100)" font-family="'Liberation Sans', Arial, sans-serif" font-size="43" fill="#1a1a1a" text-anchor="end" stroke="#fff" stroke-width="0.5">-0,0050</text>
<text transform="translate(419.50 2984.90) scale(1.0200 1.0100)" font-family="'Liberation Sans', Arial, sans-serif" font-size="43" fill="#1a1a1a" text-anchor="end" stroke="#fff" stroke-width="0.5">-0,0055</text>
<text transform="translate(455.70 3041.20) scale(1.0750 1.0000)" font-family="'Liberation Sans', Arial, sans-serif" font-size="41" fill="#1a1a1a" text-anchor="middle" stroke="#fff" stroke-width="0.5">690</text>
<text transform="translate(638.75 3041.20) scale(1.0750 1.0000)" font-family="'Liberation Sans', Arial, sans-serif" font-size="41" fill="#1a1a1a" text-anchor="middle" stroke="#fff" stroke-width="0.5">695</text>
<text transform="translate(821.80 3041.20) scale(1.0750 1.0000)" font-family="'Liberation Sans', Arial, sans-serif" font-size="41" fill="#1a1a1a" text-anchor="middle" stroke="#fff" stroke-width="0.5">700</text>
<text transform="translate(1004.85 3041.20) scale(1.0750 1.0000)" font-family="'Liberation Sans', Arial, sans-serif" font-size="41" fill="#1a1a1a" text-anchor="middle" stroke="#fff" stroke-width="0.5">705</text>
<text transform="translate(1187.90 3041.20) scale(1.0750 1.0000)" font-family="'Liberation Sans', Arial, sans-serif" font-size="41" fill="#1a1a1a" text-anchor="middle" stroke="#fff" stroke-width="0.5">710</text>
<text transform="translate(1370.95 3041.20) scale(1.0750 1.0000)" font-family="'Liberation Sans', Arial, sans-serif" font-size="41" fill="#1a1a1a" text-anchor="middle" stroke="#fff" stroke-width="0.5">715</text>
<text transform="translate(1554.00 3041.20) scale(1.0750 1.0000)" font-family="'Liberation Sans', Arial, sans-serif" font-size="41" fill="#1a1a1a" text-anchor="middle" stroke="#fff" stroke-width="0.5">720</text>
<text transform="translate(1737.05 3041.20) scale(1.0750 1.0000)" font-family="'Liberation Sans', Arial, sans-serif" font-size="41" fill="#1a1a1a" text-anchor="middle" stroke="#fff" stroke-width="0.5">725</text>
<text transform="translate(1920.10 3041.20) scale(1.0750 1.0000)" font-family="'Liberation Sans', Arial, sans-serif" font-size="41" fill="#1a1a1a" text-anchor="middle" stroke="#fff" stroke-width="0.5">730</text>
<text transform="translate(231.00 2462.20) rotate(-90)" font-family="'Liberation Sans', Arial, sans-serif" font-size="56" fill="#1a1a1a" text-anchor="middle" stroke="#fff" stroke-width="1.3">I (a.u.)</text>
<rect x="1551" y="1707" width="610" height="224" fill="#fff" stroke="#7a7a7a" stroke-width="2.2"/>
<path d="M1593 1754H1715" stroke="#404040" stroke-width="3"/>
<path d="M1593 1820H1715" stroke="#c86868" stroke-width="3"/>
<path d="M1593 1886H1715" stroke="#88cc88" stroke-width="4"/>
<text transform="translate(1727.00 1772.20) scale(1.0100 1.0000)" font-family="'Liberation Sans', Arial, sans-serif" font-size="54" fill="#111">right polarization</text>
<text transform="translate(1727.00 1837.60) scale(1.0100 1.0000)" font-family="'Liberation Sans', Arial, sans-serif" font-size="54" fill="#111">left polarization</text>
<text transform="translate(1727.00 1904.90)" font-family="'Liberation Sans', Arial, sans-serif" font-size="54" fill="#111">XMCD</text>
<text x="1010.5" y="3148.1" font-family="'Liberation Serif', 'Times New Roman', serif" font-size="63" fill="#111" textLength="331" lengthAdjust="spacingAndGlyphs">Energy (eV)</text>
<text transform="translate(1095.00 3315.50) scale(0.9700 1.0000)" font-family="'Liberation Serif', 'Times New Roman', serif" font-size="88" fill="#000"><tspan stroke="#fff" stroke-width="1.6">(</tspan><tspan font-weight="bold">b</tspan><tspan stroke="#fff" stroke-width="1.6">)</tspan></text>
</svg>
</body></html>
